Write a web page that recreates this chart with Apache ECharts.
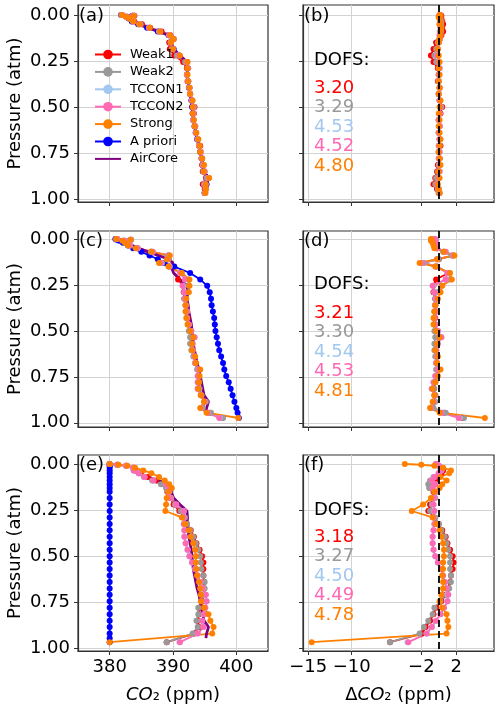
<!DOCTYPE html>
<html>
<head>
<meta charset="utf-8">
<script src="https://cdn.jsdelivr.net/npm/echarts@6.0.0/dist/echarts.min.js"></script>
<style>
html,body{margin:0;padding:0;background:#ffffff;}
#chart{width:500px;height:707px;}
</style>
</head>
<body>
<div id="chart"></div>
<script>
// ---------------- data ----------------
const legendNames = ['Weak1', 'Weak2', 'TCCON1', 'TCCON2', 'Strong', 'A priori', 'AirCore'];
const co2Ticks = [380, 390, 400];
const deltaTicks = [-15, -10, -2, 2];
const pressureTicks = [0, 0.25, 0.5, 0.75, 1.0];
const panelLabels = ['(a)', '(b)', '(c)', '(d)', '(e)', '(f)'];
const dofsB = ['3.20', '3.29', '4.53', '4.52', '4.80'];
const dofsD = ['3.21', '3.30', '4.54', '4.53', '4.81'];
const dofsF = ['3.18', '3.27', '4.50', '4.49', '4.78'];

// pressure levels (atm)
const pressAB = [0, 0.004, 0.01, 0.02, 0.035, 0.05, 0.07, 0.09, 0.11, 0.13, 0.15, 0.185, 0.22, 0.255, 0.29, 0.325, 0.36, 0.395, 0.43, 0.465, 0.5, 0.535, 0.57, 0.605, 0.64, 0.675, 0.71, 0.745, 0.78, 0.815, 0.85, 0.885, 0.92, 0.945, 0.967];
const pressCD = [0, 0.004, 0.01, 0.02, 0.035, 0.05, 0.07, 0.09, 0.11, 0.13, 0.15, 0.185, 0.22, 0.255, 0.29, 0.325, 0.36, 0.395, 0.43, 0.465, 0.5, 0.535, 0.57, 0.605, 0.64, 0.675, 0.71, 0.745, 0.78, 0.815, 0.85, 0.885, 0.92, 0.945, 0.974];
const pressEF = [0, 0.004, 0.01, 0.02, 0.035, 0.05, 0.07, 0.09, 0.11, 0.13, 0.15, 0.185, 0.22, 0.255, 0.29, 0.325, 0.36, 0.395, 0.43, 0.465, 0.5, 0.535, 0.57, 0.605, 0.64, 0.675, 0.71, 0.745, 0.78, 0.815, 0.85, 0.885, 0.92, 0.945, 0.967];

// AirCore (ppm)
const aircore = [null, null, null, null, 383.5, 384.6, 386.0, 387.7, 389.3, 390.0, 389.7, 390.1, 391.1, 392.2, 392.3, 392.2, 392.4, 392.5, 392.7, 392.9, 393.0, 393.1, 393.2, 393.4, 393.6, 393.8, 394.1, 394.3, 394.5, 394.7, 394.9, 395.6, 395.3, 395.2, null];

// panel (a) CO2 profiles
const aprioriA = [381.8, 383.6, 382.6, 383.0, 383.5, 384.5, 385.9, 387.6, 389.3, 390.0, 389.6, 390.1, 391.0, 392.2, 392.3, 392.2, 392.4, 392.5, 392.7, 392.9, 393.0, 393.1, 393.2, 393.4, 393.6, 393.8, 394.1, 394.3, 394.5, 394.7, 394.9, 395.6, 395.3, 395.2, 395.0];
const weak1A = [382.0, 383.9, 382.8, 383.3, 383.9, 385.1, 386.4, 388.2, 389.6, 390.1, 389.4, 389.5, 390.2, 391.6, 392.2, 392.2, 392.3, 392.6, 392.7, 393.0, 393.4, 393.3, 393.2, 393.5, 393.6, 393.9, 394.3, 394.3, 394.6, 394.6, 394.7, 395.2, 394.7, 395.0, 395.0];
const weak2A = [381.9, 383.8, 382.7, 383.2, 383.8, 384.9, 386.3, 388.0, 389.5, 390.1, 389.6, 389.8, 390.6, 391.9, 392.3, 392.2, 392.4, 392.6, 392.7, 393.0, 393.3, 393.2, 393.2, 393.5, 393.6, 393.9, 394.2, 394.3, 394.6, 394.7, 394.8, 395.3, 394.9, 395.1, 395.0];
const tccon1A = [381.9, 383.7, 382.6, 383.1, 383.7, 384.7, 386.2, 387.8, 389.4, 390.1, 389.7, 390.0, 390.9, 392.2, 392.4, 392.2, 392.4, 392.6, 392.7, 393.0, 393.2, 393.2, 393.2, 393.5, 393.6, 393.9, 394.1, 394.4, 394.5, 394.8, 395.0, 395.6, 395.1, 395.2, 395.1];
const tccon2A = [381.9, 383.7, 382.6, 383.1, 383.7, 384.7, 386.2, 387.9, 389.4, 390.1, 389.7, 390.0, 390.9, 392.2, 392.4, 392.2, 392.4, 392.6, 392.7, 393.0, 393.2, 393.2, 393.2, 393.5, 393.6, 393.9, 394.1, 394.4, 394.5, 394.8, 395.0, 395.6, 395.1, 395.2, 395.1];
const strongA = [381.9, 383.8, 382.6, 383.1, 383.7, 384.7, 386.3, 387.9, 389.5, 390.1, 389.7, 390.0, 391.1, 392.3, 392.3, 392.3, 392.4, 392.6, 392.7, 393.1, 393.1, 393.1, 393.3, 393.4, 393.7, 394.0, 394.2, 394.3, 394.6, 394.9, 394.9, 395.7, 395.2, 395.2, 395.1];

// panel (b) differences (ppm)
const dWeak1B = [0.2, 0.3, 0.2, 0.3, 0.4, 0.5, 0.4, 0.5, 0.3, 0.1, -0.3, -0.6, -0.9, -0.6, -0.1, 0.0, -0.1, 0.1, 0.0, 0.1, 0.4, 0.2, 0.0, 0.1, 0.0, 0.1, 0.2, 0.0, 0.1, -0.1, -0.2, -0.4, -0.6, -0.2, 0.0];
const dWeak2B = [0.1, 0.2, 0.1, 0.2, 0.3, 0.3, 0.3, 0.3, 0.2, 0.1, -0.1, -0.3, -0.5, -0.3, 0.0, 0.0, 0.0, 0.1, 0.0, 0.1, 0.3, 0.1, 0.0, 0.1, 0.0, 0.1, 0.1, 0.0, 0.1, 0.0, -0.1, -0.3, -0.4, -0.1, 0.0];
const dTccon1B = [0.1, 0.1, 0.0, 0.1, 0.2, 0.1, 0.2, 0.1, 0.1, 0.1, 0.0, -0.1, -0.2, 0.0, 0.1, 0.0, 0.0, 0.1, 0.0, 0.1, 0.2, 0.1, 0.0, 0.1, 0.0, 0.1, 0.0, 0.1, 0.0, 0.1, 0.1, 0.0, -0.2, 0.0, 0.1];
const dTccon2B = [0.1, 0.1, 0.0, 0.1, 0.2, 0.1, 0.2, 0.2, 0.1, 0.1, 0.0, -0.1, -0.2, 0.0, 0.1, 0.0, 0.0, 0.1, 0.0, 0.1, 0.2, 0.1, 0.0, 0.1, 0.0, 0.1, 0.0, 0.1, 0.0, 0.1, 0.1, 0.0, -0.2, 0.0, 0.1];
const dStrongB = [0.1, 0.2, 0.0, 0.1, 0.2, 0.1, 0.3, 0.2, 0.2, 0.1, 0.0, -0.1, 0.0, 0.1, 0.0, 0.1, 0.0, 0.1, 0.0, 0.2, 0.1, 0.0, 0.1, 0.0, 0.1, 0.2, 0.1, 0.0, 0.1, 0.2, 0.0, 0.1, -0.1, 0.0, 0.1];

// panel (c) CO2 profiles
const aprioriC = [380.9, 381.1, 381.5, 382.1, 382.9, 383.7, 385.0, 386.3, 387.6, 388.7, 390.2, 392.7, 394.3, 395.4, 395.8, 396.0, 396.1, 396.3, 396.5, 396.6, 396.7, 396.9, 397.1, 397.3, 397.6, 397.9, 398.1, 398.4, 398.8, 399.1, 399.4, 399.7, 400.0, 400.2, 400.4];
const weak1C = [381.2, 383.3, 382.3, 382.5, 383.2, 384.4, 386.6, 389.3, 389.3, 388.1, 389.4, 391.2, 390.8, 391.6, 391.7, 391.8, 392.0, 392.2, 392.3, 392.5, 392.8, 393.2, 393.0, 393.1, 393.4, 393.6, 394.0, 394.0, 394.1, 394.1, 394.5, 395.1, 394.6, 395.8, 397.7];
const weak2C = [381.1, 383.4, 382.4, 382.6, 383.2, 384.4, 386.5, 389.2, 389.3, 388.3, 389.5, 391.3, 392.4, 392.5, 392.0, 391.8, 392.0, 392.0, 392.2, 392.4, 392.5, 392.7, 392.7, 392.9, 393.2, 393.5, 393.8, 394.0, 394.1, 394.2, 394.5, 395.2, 394.7, 396.0, 397.9];
const tccon1C = [381.2, 383.3, 382.3, 382.6, 383.2, 384.4, 386.8, 389.4, 389.1, 388.1, 389.4, 391.1, 391.9, 391.6, 391.8, 391.9, 392.0, 392.2, 392.2, 392.5, 392.9, 393.4, 393.1, 393.1, 393.4, 393.5, 394.0, 393.9, 393.9, 393.9, 394.4, 395.0, 394.4, 395.5, 397.4];
const tccon2C = [381.2, 383.3, 382.3, 382.6, 383.2, 384.4, 386.8, 389.4, 389.1, 388.1, 389.4, 391.1, 391.9, 391.5, 391.8, 391.9, 392.0, 392.2, 392.2, 392.5, 392.9, 393.4, 393.1, 393.1, 393.4, 393.5, 394.0, 393.9, 393.9, 393.9, 394.4, 395.0, 394.4, 395.5, 397.3];
const strongC = [381.0, 383.3, 382.0, 382.4, 382.9, 384.1, 386.6, 389.5, 389.1, 387.8, 389.3, 391.4, 392.6, 392.6, 392.5, 392.1, 392.0, 392.0, 392.1, 392.3, 392.7, 393.2, 393.0, 393.0, 393.5, 393.6, 394.3, 394.2, 394.1, 394.0, 394.4, 394.9, 394.3, 395.3, 400.3];

// panel (d) differences (ppm)
const dWeak1D = [-0.5, -0.4, -0.5, -0.4, -0.3, -0.2, 0.6, 1.6, 0.0, -1.9, -0.3, 1.1, -0.3, -0.6, -0.6, -0.4, -0.4, -0.3, -0.4, -0.4, -0.2, 0.1, -0.2, -0.3, -0.2, -0.2, -0.1, -0.3, -0.4, -0.6, -0.4, -0.5, -0.7, 0.6, 2.7];
const dWeak2D = [-0.4, -0.3, -0.4, -0.3, -0.3, -0.2, 0.5, 1.5, 0.0, -1.7, -0.2, 1.2, 1.3, 0.3, -0.3, -0.4, -0.4, -0.5, -0.5, -0.5, -0.5, -0.4, -0.5, -0.5, -0.4, -0.3, -0.3, -0.3, -0.4, -0.5, -0.4, -0.4, -0.6, 0.8, 2.9];
const dTccon1D = [-0.5, -0.4, -0.5, -0.3, -0.3, -0.2, 0.8, 1.7, -0.2, -1.9, -0.3, 1.0, 0.8, -0.6, -0.5, -0.3, -0.4, -0.3, -0.5, -0.4, -0.1, 0.3, -0.1, -0.3, -0.2, -0.3, -0.1, -0.4, -0.6, -0.8, -0.5, -0.6, -0.9, 0.3, 2.4];
const dTccon2D = [-0.5, -0.4, -0.5, -0.3, -0.3, -0.2, 0.8, 1.7, -0.2, -1.9, -0.3, 1.0, 0.8, -0.7, -0.5, -0.3, -0.4, -0.3, -0.5, -0.4, -0.1, 0.3, -0.1, -0.3, -0.2, -0.3, -0.1, -0.4, -0.6, -0.8, -0.5, -0.6, -0.9, 0.3, 2.3];
const dStrongD = [-0.9, -0.8, -0.9, -0.7, -0.6, -0.5, 0.6, 1.8, -0.2, -2.2, -0.4, 1.3, 1.5, 0.4, 0.2, -0.1, -0.4, -0.5, -0.6, -0.6, -0.3, 0.1, -0.2, -0.4, -0.1, -0.2, 0.2, -0.1, -0.4, -0.7, -0.5, -0.7, -1.0, 0.1, 5.3];

// panel (e) CO2 profiles
const aprioriE = [380.0, 380.0, 380.0, 380.0, 380.0, 380.0, 380.0, 380.0, 380.0, 380.0, 380.0, 380.0, 380.0, 380.0, 380.0, 380.0, 380.0, 380.0, 380.0, 380.0, 380.0, 380.0, 380.0, 380.0, 380.0, 380.0, 380.0, 380.0, 380.0, 380.0, 380.0, 380.0, 380.0, 380.0, 380.0];
const weak1E = [380.0, 381.2, 382.6, 383.8, 384.0, 384.9, 386.0, 387.3, 388.8, 389.1, 389.1, 389.6, 390.1, 391.0, 391.8, 392.2, 392.8, 393.3, 393.7, 394.2, 394.6, 394.8, 394.8, 394.8, 394.9, 394.9, 394.9, 394.6, 394.2, 394.1, 393.9, 394.1, 393.4, null, 389.0];
const weak2E = [380.0, 381.2, 382.6, 383.7, 383.8, 384.6, 385.4, 386.7, 388.1, 388.9, 389.2, 389.7, 390.3, 391.2, 391.9, 392.2, 392.7, 393.2, 393.6, 394.0, 394.3, 394.4, 394.5, 394.8, 395.0, 395.0, 395.0, 394.5, 394.0, 394.0, 393.7, 393.9, 393.1, null, 389.0];
const tccon1E = [380.0, 381.2, 382.6, 383.7, 383.8, 384.6, 385.5, 386.9, 388.9, 389.3, 389.4, 389.6, 390.5, 391.7, 391.7, 391.7, 391.8, 391.8, 392.0, 392.3, 392.6, 393.0, 393.5, 393.9, 394.3, 394.7, 395.1, 395.3, 395.1, 394.9, 394.6, 394.8, 393.9, null, 391.0];
const tccon2E = [380.0, 381.2, 382.6, 383.7, 383.8, 384.6, 385.5, 386.9, 388.9, 389.3, 389.4, 389.6, 390.5, 391.7, 391.7, 391.7, 391.8, 391.8, 392.0, 392.3, 392.6, 393.0, 393.5, 393.9, 394.3, 394.7, 395.2, 395.3, 395.1, 394.9, 394.6, 394.8, 393.9, null, 391.1];
const strongE = [380.0, 381.4, 382.8, 384.0, 385.3, 386.6, 387.8, 388.7, 389.4, 389.8, 389.3, 389.0, 388.9, 388.8, 391.4, 391.9, 392.5, 392.8, 393.2, 393.5, 393.6, 393.6, 393.7, 393.8, 394.1, 394.3, 394.4, 394.4, 394.9, 395.6, 395.9, 396.4, 396.2, null, 380.0];

// panel (f) differences (ppm)
const dWeak1F = [-0.3, -0.2, 0.0, 0.3, 0.5, 0.3, 0.0, -0.4, -0.5, -0.9, -0.6, -0.5, -1.0, -1.2, -0.5, 0.0, 0.4, 0.8, 1.0, 1.3, 1.6, 1.7, 1.6, 1.4, 1.3, 1.1, 0.8, 0.3, -0.3, -0.6, -1.0, -1.5, -1.9, null, -5.6];
const dWeak2F = [-0.3, -0.2, 0.0, 0.2, 0.3, 0.0, -0.6, -1.0, -1.2, -1.1, -0.5, -0.4, -0.8, -1.0, -0.4, 0.0, 0.3, 0.7, 0.9, 1.1, 1.3, 1.3, 1.3, 1.4, 1.4, 1.2, 0.9, 0.2, -0.5, -0.7, -1.2, -1.7, -2.2, null, -5.6];
const dTccon1F = [-0.3, -0.2, 0.0, 0.2, 0.3, 0.0, -0.5, -0.8, -0.4, -0.7, -0.3, -0.5, -0.6, -0.5, -0.6, -0.5, -0.6, -0.7, -0.7, -0.6, -0.4, -0.1, 0.3, 0.5, 0.7, 0.9, 1.0, 1.0, 0.6, 0.2, -0.3, -0.8, -1.4, null, -3.6];
const dTccon2F = [-0.3, -0.2, 0.0, 0.2, 0.3, 0.0, -0.5, -0.8, -0.4, -0.7, -0.3, -0.5, -0.6, -0.5, -0.6, -0.5, -0.6, -0.7, -0.7, -0.6, -0.4, -0.1, 0.3, 0.5, 0.7, 0.9, 1.1, 1.0, 0.6, 0.2, -0.3, -0.8, -1.4, null, -3.5];
const dStrongF = [-3.9, -2.0, -0.5, 0.5, 1.4, 1.2, 0.2, 0.9, 0.4, 0.1, -0.5, -0.9, -1.8, -3.1, -0.7, -0.3, 0.1, 0.3, 0.5, 0.6, 0.6, 0.5, 0.5, 0.4, 0.5, 0.5, 0.3, 0.1, 0.4, 0.9, 1.0, 1.1, 0.9, null, -14.6];

// ---------------- styling / layout ----------------
const FONT = 'DejaVu Sans';
const colors = {
  'Weak1': '#ff0000', 'Weak2': '#999999', 'TCCON1': '#a3c8f0', 'TCCON2': '#ff69b4',
  'Strong': '#ff8000', 'A priori': '#0000ff', 'AirCore': '#800080'
};
const gridLefts = [78, 303];
const gridWidths = [190, 191];
const gridTops = [5, 231, 455];
const gridHeights = [197, 196, 196];
const yLimits = [[-0.054, 1.016], [-0.0435, 1.023], [-0.0488, 1.0146]];
const xLimLeft = [375, 405];
const xLimRight = [-15.6, 6.35];

function fmtNum(v) { return v < 0 ? '\u2212' + Math.abs(v) : String(v); }
function pts(xs, press) { return xs.map((v, i) => [v === null ? '-' : v, press[i]]); }

function profile(name, xs, press, idx) {
  const c = colors[name];
  const isAir = name === 'AirCore';
  return {
    type: 'line', name: name, xAxisIndex: idx, yAxisIndex: idx,
    data: pts(xs, press),
    symbol: isAir ? 'none' : 'circle', symbolSize: 6, showSymbol: !isAir,
    connectNulls: true,
    lineStyle: { color: c, width: isAir ? 2.8 : 1.8 },
    itemStyle: { color: c },
    emphasis: { disabled: true },
    silent: true, animation: false
  };
}

function zeroLine(idx) {
  return {
    type: 'line', name: 'zero', xAxisIndex: idx, yAxisIndex: idx, data: [], z: 20,
    silent: true, animation: false,
    markLine: {
      silent: true, symbol: ['none', 'none'], label: { show: false }, animation: false,
      lineStyle: { color: '#000000', type: [7, 4], width: 1.8 },
      data: [{ xAxis: 0 }]
    }
  };
}

const grids = [], xAxes = [], yAxes = [];
for (let r = 0; r < 3; r++) {
  for (let c = 0; c < 2; c++) {
    const idx = r * 2 + c;
    grids.push({
      left: gridLefts[c], top: gridTops[r], width: gridWidths[c], height: gridHeights[r],
      show: true, borderColor: '#333333', borderWidth: 1.2, backgroundColor: 'transparent'
    });
    const ticks = c === 0 ? co2Ticks : deltaTicks;
    const bottom = r === 2;
    xAxes.push({
      type: 'value', gridIndex: idx,
      min: c === 0 ? xLimLeft[0] : xLimRight[0], max: c === 0 ? xLimLeft[1] : xLimRight[1],
      axisLine: { show: true, onZero: false, lineStyle: { color: '#333333', width: 1.2 } },
      axisTick: { show: true, customValues: ticks, length: 4, lineStyle: { color: '#333333', width: 1 } },
      axisLabel: { show: bottom, customValues: ticks, formatter: fmtNum, fontSize: 18, fontFamily: FONT, color: '#000000', margin: 7 },
      splitLine: { show: true, lineStyle: { color: '#d3d3d3', width: 1 } },
      name: bottom ? (c === 0 ? '{it|CO}\u2082 (ppm)' : '\u0394{it|CO}\u2082 (ppm)') : '',
      nameLocation: 'middle', nameGap: 35,
      nameTextStyle: { fontSize: 18, fontFamily: FONT, color: '#000000',
        rich: { it: { fontSize: 18, fontFamily: FONT, fontStyle: 'italic', color: '#000000' } } }
    });
    yAxes.push({
      type: 'value', gridIndex: idx, inverse: true,
      min: yLimits[r][0], max: yLimits[r][1],
      axisLine: { show: true, onZero: false, lineStyle: { color: '#333333', width: 1.2 } },
      axisTick: { show: true, customValues: pressureTicks, length: 4, lineStyle: { color: '#333333', width: 1 } },
      axisLabel: { show: c === 0, customValues: pressureTicks, formatter: v => v.toFixed(2), fontSize: 18, fontFamily: FONT, color: '#000000', margin: 8 },
      splitLine: { show: true, lineStyle: { color: '#d3d3d3', width: 1 } },
      name: c === 0 ? 'Pressure (atm)' : '',
      nameLocation: 'middle', nameGap: 54,
      nameTextStyle: { fontSize: 18, fontFamily: FONT, color: '#000000' }
    });
  }
}

const leftPanels = [
  { idx: 0, press: pressAB, apriori: aprioriA, w1: weak1A, w2: weak2A, t1: tccon1A, t2: tccon2A, s: strongA },
  { idx: 2, press: pressCD, apriori: aprioriC, w1: weak1C, w2: weak2C, t1: tccon1C, t2: tccon2C, s: strongC },
  { idx: 4, press: pressEF, apriori: aprioriE, w1: weak1E, w2: weak2E, t1: tccon1E, t2: tccon2E, s: strongE }
];
const rightPanels = [
  { idx: 1, press: pressAB, w1: dWeak1B, w2: dWeak2B, t1: dTccon1B, t2: dTccon2B, s: dStrongB },
  { idx: 3, press: pressCD, w1: dWeak1D, w2: dWeak2D, t1: dTccon1D, t2: dTccon2D, s: dStrongD },
  { idx: 5, press: pressEF, w1: dWeak1F, w2: dWeak2F, t1: dTccon1F, t2: dTccon2F, s: dStrongF }
];

const series = [];
leftPanels.forEach(p => {
  series.push(profile('A priori', p.apriori, p.press, p.idx));
  series.push(profile('Weak1', p.w1, p.press, p.idx));
  series.push(profile('Weak2', p.w2, p.press, p.idx));
  series.push(profile('TCCON1', p.t1, p.press, p.idx));
  series.push(profile('TCCON2', p.t2, p.press, p.idx));
  series.push(profile('Strong', p.s, p.press, p.idx));
  series.push(profile('AirCore', aircore, p.press, p.idx));
});
rightPanels.forEach(p => {
  series.push(profile('Weak1', p.w1, p.press, p.idx));
  series.push(profile('Weak2', p.w2, p.press, p.idx));
  series.push(profile('TCCON1', p.t1, p.press, p.idx));
  series.push(profile('TCCON2', p.t2, p.press, p.idx));
  series.push(profile('Strong', p.s, p.press, p.idx));
  series.push(zeroLine(p.idx));
});

// text annotations
const graphics = [];
const labelPos = [[79, 16], [304, 16], [79, 241], [304, 241], [79, 465], [304, 465]];
panelLabels.forEach((t, i) => {
  graphics.push({ type: 'text', silent: true, z: 100,
    style: { text: t, x: labelPos[i][0], y: labelPos[i][1], align: 'left', verticalAlign: 'middle',
      font: '18px "' + FONT + '"', fill: '#000000' } });
});
const dofsSets = [dofsB, dofsD, dofsF];
const dofsTop = [60, 284, 510];
const dofsFirst = [88, 313, 537];
const dofsColors = [colors['Weak1'], colors['Weak2'], colors['TCCON1'], colors['TCCON2'], colors['Strong']];
dofsSets.forEach((set, k) => {
  graphics.push({ type: 'text', silent: true, z: 100,
    style: { text: 'DOFS:', x: 314, y: dofsTop[k], align: 'left', verticalAlign: 'middle',
      font: '18px "' + FONT + '"', fill: '#000000' } });
  set.forEach((v, j) => {
    graphics.push({ type: 'text', silent: true, z: 100,
      style: { text: v, x: 314, y: dofsFirst[k] + j * 19.6, align: 'left', verticalAlign: 'middle',
        font: '18px "' + FONT + '"', fill: dofsColors[j] } });
  });
});

const legendData = legendNames.map(n => n === 'AirCore'
  ? { name: n, itemStyle: { color: 'rgba(0,0,0,0)', borderWidth: 0, opacity: 0 } }
  : { name: n });

const chart = echarts.init(document.getElementById('chart'), null, { renderer: 'canvas', width: 500, height: 707 });
chart.setOption({
  backgroundColor: '#ffffff',
  animation: false,
  textStyle: { fontFamily: FONT },
  grid: grids,
  xAxis: xAxes,
  yAxis: yAxes,
  legend: {
    data: legendData, orient: 'vertical', left: 89, top: 43,
    itemWidth: 26, itemHeight: 12, itemGap: 4.4, selectedMode: false,
    textStyle: { fontSize: 13, fontFamily: FONT, color: '#000000', padding: [0, 0, 0, 4] }
  },
  graphic: graphics,
  series: series
});
</script>
</body>
</html>
